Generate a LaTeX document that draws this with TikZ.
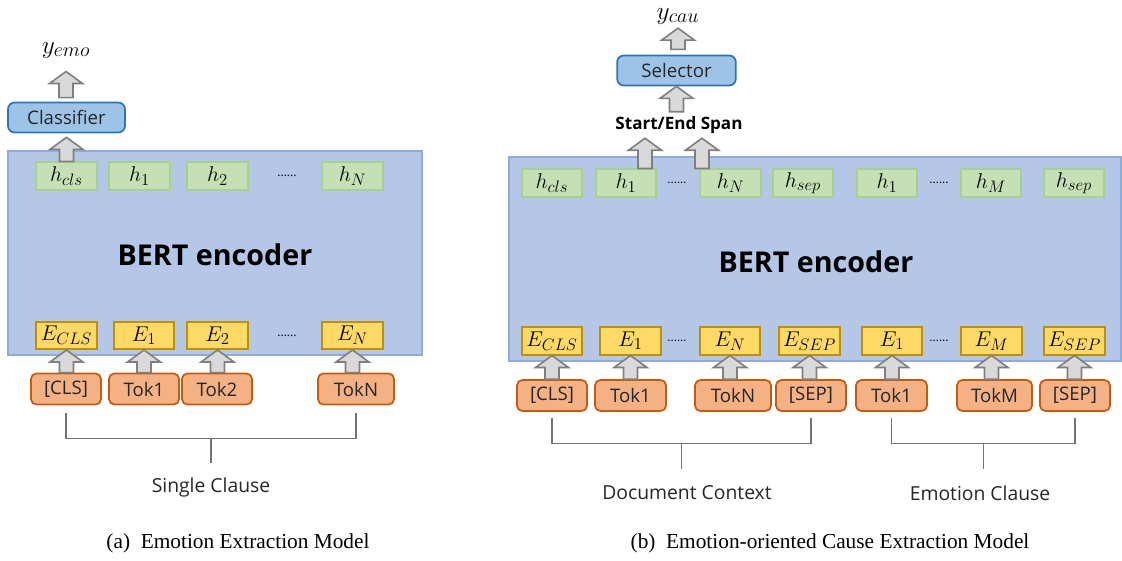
\RequirePackage{fix-cm}
\documentclass[tikz,border=0pt]{standalone}
\usepackage{fontspec}
\setmainfont{Liberation Serif}
\newfontfamily\labfont{Open Sans}
\usetikzlibrary{calc}
\DeclareMathSizes{16}{16}{12.5}{10}
\DeclareMathSizes{19}{19}{15}{12}

\definecolor{encfill}{HTML}{B4C7E7}
\definecolor{encdraw}{HTML}{8FAADC}
\definecolor{hfill}{HTML}{C5E0B4}
\definecolor{hdraw}{HTML}{A9D18E}
\definecolor{efill}{HTML}{FFD966}
\definecolor{edraw}{HTML}{BF9000}
\definecolor{tokfill}{HTML}{F4B183}
\definecolor{tokdraw}{HTML}{C55A11}
\definecolor{headfill}{HTML}{9DC3E6}
\definecolor{headdraw}{HTML}{2E75B6}
\definecolor{arrfill}{HTML}{D9D9D9}
\definecolor{arrdraw}{HTML}{7F7F7F}

% block arrow pointing up, x taken from the tip
\newcommand{\blockup}[2]{%
  \path[blockarr] let \p1=#1, \p2=#2 in
    (\x2-5.25pt,\y1) -- (\x2-5.25pt,\y2-9pt) -- (\x2-12.4pt,\y2-9pt) -- (\x2,\y2)
    -- (\x2+12.4pt,\y2-9pt) -- (\x2+5.25pt,\y2-9pt) -- (\x2+5.25pt,\y1) -- cycle;}

\begin{document}
\begin{tikzpicture}[x=0.75pt,y=-0.75pt,
    encoder/.style = {draw=encdraw, fill=encfill, line width=1.2pt},
    hbox/.style = {draw=hdraw, fill=hfill, line width=1.3pt, minimum width=45.5pt,
      minimum height=20.5pt, inner sep=0pt, font=\fontsize{16}{18}\selectfont},
    ebox/.style = {hbox, draw=edraw, fill=efill},
    tokbox/.style = {draw=tokdraw, fill=tokfill, line width=1.3pt, rounded corners=4pt,
      minimum height=23.25pt, inner sep=0pt, text=black!85,
      font=\labfont\fontsize{14}{16}\selectfont},
    headbox/.style = {draw=headdraw, fill=headfill, line width=1.3pt, rounded corners=5pt,
      minimum height=22.5pt, text=black!85, font=\labfont\fontsize{14}{16}\selectfont},
    dots/.style = {font=\labfont\fontsize{9}{10}\selectfont},
    bigtext/.style = {font=\labfont\bfseries\fontsize{21.5}{25}\selectfont},
    labtext/.style = {text=black!85, font=\labfont\fontsize{14.5}{17}\selectfont},
    outlabel/.style = {font=\fontsize{19}{22}\selectfont, inner sep=0pt, anchor=base},
    bracket/.style = {draw=black!55, line width=0.8pt},
    captext/.style = {font=\fontsize{16}{19}\selectfont},
    blockarr/.style = {draw=arrdraw, fill=arrfill, line width=1.2pt}
  ]
  \useasboundingbox (0,0) rectangle (1122,561);

  % (a) emotion extraction
  \draw[encoder] (8,151) rectangle (422,355);
  \node[bigtext] (lbert) at (215,255) {BERT encoder};
  \node[headbox, minimum width=87.75pt] (cls) at (66.5,117.5) {Classifier};
  \node[outlabel] (yemo) at (66,53) {$y_{emo}$};
  \blockup{([yshift=3pt]cls.north)}{([yshift=-10pt]yemo.south)}
  \foreach \x/\t [count=\i] in {66.5/h_{cls},139.5/h_1,217.5/h_2,352.5/h_N}{ % hidden states
      \node[hbox] (lh\i) at (\x,176) {$\t$};
    }
  \node[dots] (lhdots) at (287,176) {......};
  \blockup{(lh1.north)}{([yshift=-3pt]cls.south)}
  \foreach \x/\t [count=\i] in {66.5/E_{CLS},144/E_1,217.5/E_2,352.5/E_N}{ % embeddings
      \node[ebox] (le\i) at (\x,335.5) {$\t$};
    }
  \node[dots] (ledots) at (287,335.5) {......};
  \foreach \x/\w/\t [count=\i] in {66/70/{[CLS]},144/70/Tok1,217/70/Tok2,356/76/TokN}{ % tokens
      \node[tokbox, minimum width=0.75pt*\w] (ltok\i) at (\x,389) {\t};
      \blockup{(ltok\i.north)}{(le\i.south)}
    }
  \node[labtext] (lclause) at (211,487) {Single Clause};
  \draw[bracket] ([yshift=-6pt]ltok1.south) -- ++(0,25) coordinate (lbr) -| ([yshift=-6pt]ltok4.south);
  \draw[bracket] ($(lbr)!0.5!(lbr -| ltok4.south)$) -- ++(0,25);
  \node[captext] (capa) at (238,543) {(a)\hspace{0.5em}Emotion Extraction Model};

  % (b) emotion-oriented cause extraction
  \draw[encoder] (509,157) rectangle (1121,361);
  \node[bigtext] (rbert) at (816,262) {BERT encoder};
  \node[headbox, minimum width=89pt] (sel) at (676.5,70.5) {Selector};
  \node[outlabel] (ycau) at (678,19) {$y_{cau}$};
  \node[font=\labfont\bfseries\fontsize{12.8}{15}\selectfont] (span) at (679,125) {Start/End Span};
  \blockup{([yshift=4pt]sel.north)}{([yshift=-3pt]ycau.south)}
  \blockup{(span.north)}{(sel.south)}
  \foreach \x/\t [count=\i] in {552/h_{cls},626/h_1,730.5/h_N,803/h_{sep},887/h_1,991/h_M,1074/h_{sep}}{
      \node[hbox] (rh\i) at (\x,183) {$\t$};
    }
  \node[dots] (rhdots1) at (677,183) {......};
  \node[dots] (rhdots2) at (939,183) {......};
  \blockup{(rh2.north)}{([xshift=-25.5pt]span.south)}
  \blockup{(rh3.north)}{([xshift=17.25pt]span.south)}
  \foreach \x/\t [count=\i] in {552/E_{CLS},630.5/E_1,730/E_N,809.5/E_{SEP},892/E_1,991.5/E_M,1074.5/E_{SEP}}{
      \node[ebox] (re\i) at (\x,341) {$\t$};
    }
  \node[dots] (redots1) at (677,341) {......};
  \node[dots] (redots2) at (939,341) {......};
  \foreach \x/\w/\t [count=\i] in {552/70/{[CLS]},630.5/71/Tok1,733/76/TokN,811/70/{[SEP]},
    891.5/71/Tok1,994.5/75/TokM,1075/70/{[SEP]}}{
      \node[tokbox, minimum width=0.75pt*\w] (rtok\i) at (\x,395.5) {\t};
      \blockup{(rtok\i.north)}{(re\i.south)}
    }
  \node[labtext] (rdoc) at (687,493) {Document Context};
  \node[labtext] (remo) at (980,493) {Emotion Clause};
  \draw[bracket] ([yshift=-4.5pt]rtok1.south) -- ++(0,26) coordinate (rbr1) -| ([yshift=-4.5pt]rtok4.south);
  \draw[bracket] ($(rbr1)!0.5!(rbr1 -| rtok4.south)$) -- ++(0,25);
  \draw[bracket] ([yshift=-4.5pt]rtok5.south) -- ++(0,26) coordinate (rbr2) -| ([yshift=-4.5pt]rtok7.south);
  \draw[bracket] ($(rbr2)!0.5!(rbr2 -| rtok7.south)$) -- ++(0,25);
  \node[captext] (capb) at (830,543) {(b)\hspace{0.5em}Emotion-oriented Cause Extraction Model};

\end{tikzpicture}
\end{document}
